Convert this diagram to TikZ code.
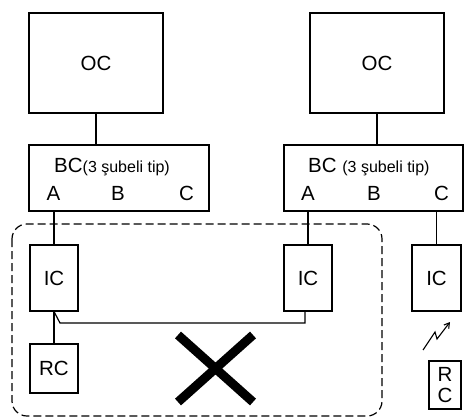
\documentclass[tikz,border=0pt]{standalone}
\usepackage{fontspec}
\setmainfont{Liberation Sans}
\usepackage{tikz}
\usetikzlibrary{positioning,arrows.meta}

\tikzset{
    unit/.style={draw, line width=1.2pt, inner sep=0pt, font=\fontsize{20.5}{21}\selectfont},
    port/.style={inner sep=0pt, anchor=base, font=\fontsize{20.5}{21}\selectfont},
    wire/.style={line width=1.2pt}
}

\begin{document}
\begin{tikzpicture}[x=1pt, y=-1pt]
    \useasboundingbox (0,0) rectangle (471,420);

    % outdoor units
    \node[unit, minimum width=134pt, minimum height=100pt] (oc1) at (96,63) {OC};
    \node[unit, minimum width=134pt, minimum height=100pt] (oc2) at (377,63) {OC};

    % branch controllers
    \node[unit, minimum width=180pt, minimum height=66pt] (bc1) at (119,178) {};
    \node[unit, minimum width=179pt, minimum height=66pt] (bc2) at (373.5,178) {};
    \node[port, anchor=base west] (bct1) at (54,172) {BC{\fontsize{16}{18}\selectfont(3 şubeli tip)}};
    \node[port, anchor=base west] (bct2) at (308,172) {BC {\fontsize{16}{18}\selectfont(3 şubeli tip)}};

    \node[port] (a1) at (53.5,200) {A};
    \node[port] (b1) at (118,200) {B};
    \node[port] (c1) at (186.5,200) {C};
    \node[port] (a2) at (308,200) {A};
    \node[port] (b2) at (374,200) {B};
    \node[port] (c2) at (441.5,200) {C};

    % indoor units
    \node[unit, minimum width=48pt, minimum height=66pt] (ic1) at (54,278) {IC};
    \node[unit, minimum width=48pt, minimum height=66pt] (ic2) at (308,278) {IC};
    \node[unit, minimum width=49pt, minimum height=66pt] (ic3) at (436.5,278) {IC};

    % remote controllers
    \node[unit, minimum width=48pt, minimum height=49pt] (rc1) at (54,368.5) {RC};
    \node[unit, minimum width=32pt, minimum height=48pt, align=center] (rc2) at (445,385) {R\\C};

    \draw[wire] (oc1.south) -- (oc1.south |- bc1.north);
    \draw[wire] (oc2.south) -- (oc2.south |- bc2.north);
    \draw[wire] (ic1.north) -- (ic1.north |- bc1.south);
    \draw[wire] (ic2.north) -- (ic2.north |- bc2.south);
    \draw[wire] (ic3.north) -- (ic3.north |- bc2.south);
    \draw[wire] (ic1) -- (rc1);

    % wrong link between two indoor units
    \coordinate (k1) at (60,323);
    \coordinate (k2) at (305,323);
    \draw[wire] (ic1.south) -- (k1) -- (k2) -- (k2 |- ic2.south);

    \draw[line width=9pt] (178,335) -- (253,402);
    \draw[line width=9pt] (178,402) -- (253,335);

    \draw[line width=1.2pt, dash pattern=on 8pt off 4pt, rounded corners=15pt] (12,224) rectangle (382,416);

    % wireless
    \draw[line width=1.1pt, -{Straight Barb[length=5pt, width=6pt]}] (423,350) -- (435,332) -- (437,339) -- (450,322);
\end{tikzpicture}
\end{document}
